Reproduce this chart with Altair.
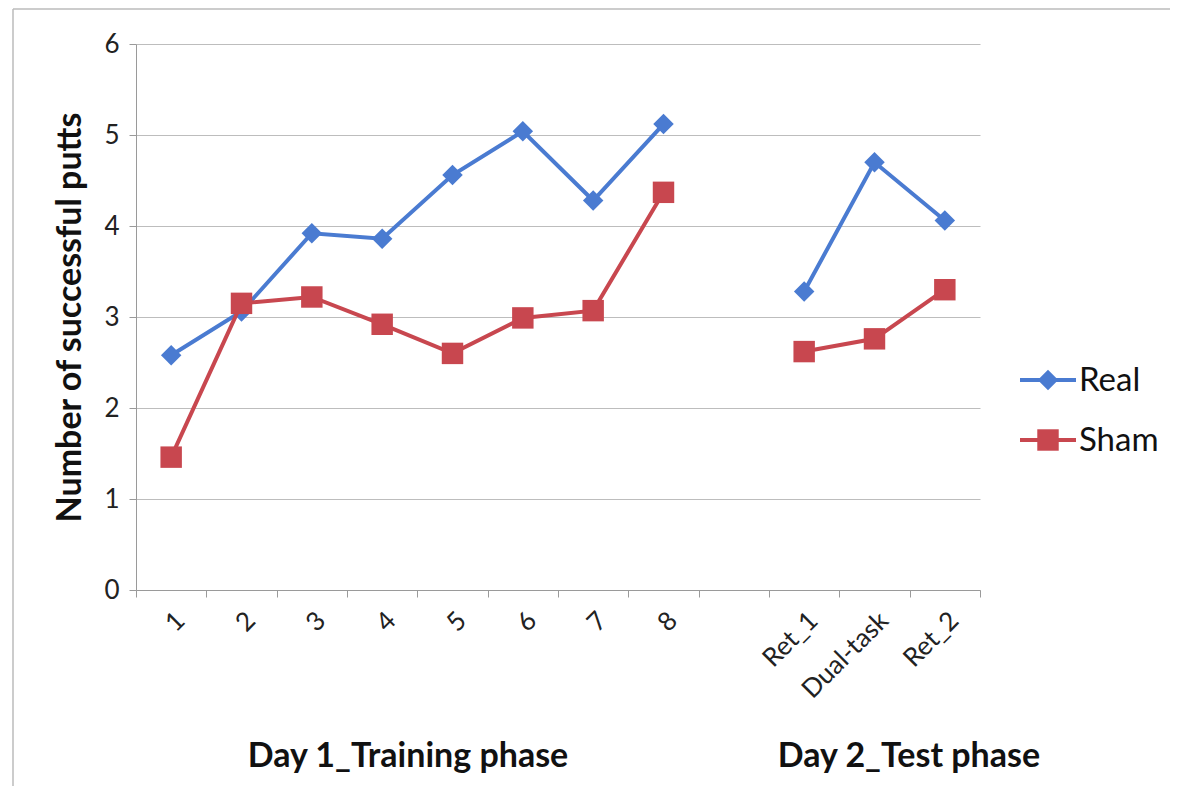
import altair as alt
import pandas as pd

categories = ["1", "2", "3", "4", "5", "6", "7", "8", " ", "Ret_1", "Dual-task", "Ret_2"]
phases = ["Day 1", "Day 1", "Day 1", "Day 1", "Day 1", "Day 1", "Day 1", "Day 1", "", "Day 2", "Day 2", "Day 2"]
real = [2.58, 3.06, 3.92, 3.86, 4.56, 5.04, 4.28, 5.12, None, 3.28, 4.70, 4.06]
sham = [1.46, 3.15, 3.22, 2.92, 2.60, 2.99, 3.07, 4.37, None, 2.62, 2.76, 3.30]
series = ["Real", "Sham"]
colors = ["#4A7BD1", "#C8474F"]
shapes = ["diamond", "square"]
y_ticks = [0, 1, 2, 3, 4, 5, 6]
group_labels = ["Day 1_Training phase", "Day 2_Test phase"]

rows = []
for name, vals in zip(series, [real, sham]):
    for c, p, v in zip(categories, phases, vals):
        if v is not None:
            rows.append({"category": c, "phase": p, "group": name, "value": v})
df = pd.DataFrame(rows)

FONT = "Lato"
W, H = 844, 546
SIZES = {"diamond": 420, "square": 460}

x_enc = alt.X(
    "category:N",
    sort=categories,
    scale=alt.Scale(domain=categories, paddingInner=0, paddingOuter=0),
    axis=alt.Axis(
        title=None, labelAngle=-45, labelFontSize=26, labelFont=FONT,
        labelColor="#222222", tickBand="extent", tickSize=7, tickColor="#9a9a9a",
        domainColor="#9a9a9a", labelPadding=10, grid=False, labelOverlap=False,
        labelLimit=300,
    ),
)
y_enc = alt.Y(
    "value:Q",
    scale=alt.Scale(domain=[0, 6], nice=False),
    axis=alt.Axis(
        title="Number of successful putts", titleFontSize=34, titleFont=FONT,
        titleFontWeight="bold", titleColor="#111111", titlePadding=16,
        values=y_ticks, labelFontSize=26, labelFont=FONT, labelColor="#222222",
        tickSize=7, tickColor="#9a9a9a", domainColor="#9a9a9a", labelPadding=10,
        gridColor="#bdbdbd", gridWidth=1.2,
    ),
)

layers = []
for name, col, shp in zip(series, colors, shapes):
    sub = df[df["group"] == name]
    base = alt.Chart(sub)
    line = base.mark_line(color=col, strokeWidth=4).encode(x=x_enc, y=y_enc, detail="phase:N")
    pts = base.mark_point(
        color=col, filled=True, opacity=1, shape=shp, size=SIZES[shp],
    ).encode(x=x_enc, y=y_enc)
    layers += [line, pts]

# legend
leg_y = [336, 396]
for i, (name, col, shp) in enumerate(zip(series, colors, shapes)):
    d = alt.Chart(pd.DataFrame({"t": [name]}))
    layers.append(d.mark_rule(color=col, strokeWidth=4).encode(
        x=alt.value(884), x2=alt.value(940), y=alt.value(leg_y[i])))
    layers.append(d.mark_point(color=col, filled=True, opacity=1, shape=shp,
                               size=SIZES[shp]).encode(
        x=alt.value(912), y=alt.value(leg_y[i])))
    layers.append(d.mark_text(align="left", baseline="middle", fontSize=33, font=FONT,
                              color="#111111").encode(
        x=alt.value(943), y=alt.value(leg_y[i] + 1), text="t:N"))

# group labels under axis
gl_x = [272, 773]
for lab, gx in zip(group_labels, gl_x):
    d = alt.Chart(pd.DataFrame({"t": [lab]}))
    layers.append(d.mark_text(align="center", baseline="middle", fontSize=34, font=FONT,
                              fontWeight="bold", color="#111111").encode(
        x=alt.value(gx), y=alt.value(713), text="t:N"))

# outer frame lines
fr = alt.Chart(pd.DataFrame({"a": [0]}))
layers.append(fr.mark_rule(color="#bbbbbb", strokeWidth=1.5).encode(
    x=alt.value(-123), x2=alt.value(1042), y=alt.value(-35)))
layers.append(fr.mark_rule(color="#bbbbbb", strokeWidth=1.5).encode(
    x=alt.value(-123), y=alt.value(-35), y2=alt.value(746)))
layers.append(fr.mark_rule(color="#dddddd", strokeWidth=1).encode(
    x=alt.value(1042), y=alt.value(-35), y2=alt.value(746)))

chart = alt.layer(*layers).properties(
    width=W, height=H,
    autosize=alt.AutoSizeParams(type="none"),
    padding={"left": 128, "top": 36, "right": 190, "bottom": 196},
    background="white",
).configure_view(stroke=None)

chart.save("out.html", embed_options={"renderer": "svg", "actions": False})
